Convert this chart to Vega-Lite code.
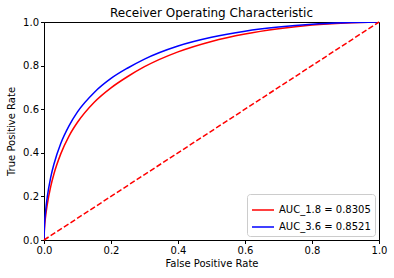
{
  "$schema": "https://vega.github.io/schema/vega-lite/v6.json",
  "width": 335,
  "height": 218,
  "autosize": {"type": "none"},
  "padding": {"left": 44, "top": 22, "right": 15, "bottom": 38},
  "background": "white",
  "config": {
    "font": "DejaVu Sans",
    "view": {"stroke": "black", "strokeWidth": 1},
    "axis": {
      "domainColor": "black",
      "tickColor": "black",
      "tickSize": 3.5,
      "labelColor": "black",
      "labelFontSize": 10,
      "titleFontSize": 10,
      "titleFontWeight": "normal",
      "titleColor": "black",
      "grid": false,
      "labelFlush": false,
      "labelFont": "DejaVu Sans",
      "titleFont": "DejaVu Sans"
    }
  },
  "title": {
    "text": "Receiver Operating Characteristic",
    "fontSize": 12,
    "fontWeight": "normal",
    "font": "DejaVu Sans",
    "color": "black",
    "offset": 5,
    "dy": 8
  },
  "layer": [
    {
      "data": {
        "values": [
          {"fpr": 0.0, "tpr": 0.0, "s": "AUC_1.8 = 0.8305"},
          {"fpr": 0.001, "tpr": 0.041, "s": "AUC_1.8 = 0.8305"},
          {"fpr": 0.005, "tpr": 0.11, "s": "AUC_1.8 = 0.8305"},
          {"fpr": 0.01, "tpr": 0.165, "s": "AUC_1.8 = 0.8305"},
          {"fpr": 0.02, "tpr": 0.245, "s": "AUC_1.8 = 0.8305"},
          {"fpr": 0.03, "tpr": 0.305, "s": "AUC_1.8 = 0.8305"},
          {"fpr": 0.05, "tpr": 0.395, "s": "AUC_1.8 = 0.8305"},
          {"fpr": 0.075, "tpr": 0.478, "s": "AUC_1.8 = 0.8305"},
          {"fpr": 0.1, "tpr": 0.54, "s": "AUC_1.8 = 0.8305"},
          {"fpr": 0.15, "tpr": 0.632, "s": "AUC_1.8 = 0.8305"},
          {"fpr": 0.2, "tpr": 0.698, "s": "AUC_1.8 = 0.8305"},
          {"fpr": 0.25, "tpr": 0.75, "s": "AUC_1.8 = 0.8305"},
          {"fpr": 0.3, "tpr": 0.795, "s": "AUC_1.8 = 0.8305"},
          {"fpr": 0.4, "tpr": 0.863, "s": "AUC_1.8 = 0.8305"},
          {"fpr": 0.5, "tpr": 0.911, "s": "AUC_1.8 = 0.8305"},
          {"fpr": 0.6, "tpr": 0.945, "s": "AUC_1.8 = 0.8305"},
          {"fpr": 0.7, "tpr": 0.969, "s": "AUC_1.8 = 0.8305"},
          {"fpr": 0.8, "tpr": 0.986, "s": "AUC_1.8 = 0.8305"},
          {"fpr": 0.9, "tpr": 0.9957, "s": "AUC_1.8 = 0.8305"},
          {"fpr": 1.0, "tpr": 1.0, "s": "AUC_1.8 = 0.8305"},
          {"fpr": 0.0, "tpr": 0.0, "s": "AUC_3.6 = 0.8521"},
          {"fpr": 0.001, "tpr": 0.054, "s": "AUC_3.6 = 0.8521"},
          {"fpr": 0.005, "tpr": 0.136, "s": "AUC_3.6 = 0.8521"},
          {"fpr": 0.01, "tpr": 0.2, "s": "AUC_3.6 = 0.8521"},
          {"fpr": 0.02, "tpr": 0.287, "s": "AUC_3.6 = 0.8521"},
          {"fpr": 0.03, "tpr": 0.35, "s": "AUC_3.6 = 0.8521"},
          {"fpr": 0.05, "tpr": 0.443, "s": "AUC_3.6 = 0.8521"},
          {"fpr": 0.075, "tpr": 0.525, "s": "AUC_3.6 = 0.8521"},
          {"fpr": 0.1, "tpr": 0.588, "s": "AUC_3.6 = 0.8521"},
          {"fpr": 0.15, "tpr": 0.677, "s": "AUC_3.6 = 0.8521"},
          {"fpr": 0.2, "tpr": 0.741, "s": "AUC_3.6 = 0.8521"},
          {"fpr": 0.25, "tpr": 0.789, "s": "AUC_3.6 = 0.8521"},
          {"fpr": 0.3, "tpr": 0.83, "s": "AUC_3.6 = 0.8521"},
          {"fpr": 0.4, "tpr": 0.89, "s": "AUC_3.6 = 0.8521"},
          {"fpr": 0.5, "tpr": 0.93, "s": "AUC_3.6 = 0.8521"},
          {"fpr": 0.6, "tpr": 0.958, "s": "AUC_3.6 = 0.8521"},
          {"fpr": 0.7, "tpr": 0.977, "s": "AUC_3.6 = 0.8521"},
          {"fpr": 0.8, "tpr": 0.99, "s": "AUC_3.6 = 0.8521"},
          {"fpr": 0.9, "tpr": 0.9971, "s": "AUC_3.6 = 0.8521"},
          {"fpr": 1.0, "tpr": 1.0, "s": "AUC_3.6 = 0.8521"}
        ]
      },
      "mark": {"type": "line", "strokeWidth": 1.5, "interpolate": "monotone", "clip": true},
      "encoding": {
        "x": {
          "field": "fpr", "type": "quantitative",
          "scale": {"domain": [0, 1], "nice": false, "zero": false},
          "axis": {"title": "False Positive Rate", "values": [0, 0.2, 0.4, 0.6, 0.8, 1.0], "format": ".1f", "labelPadding": 2, "titlePadding": 3}
        },
        "y": {
          "field": "tpr", "type": "quantitative",
          "scale": {"domain": [0, 1], "nice": false, "zero": false},
          "axis": {"title": "True Positive Rate", "values": [0, 0.2, 0.4, 0.6, 0.8, 1.0], "format": ".1f", "labelPadding": 2, "titlePadding": 6}
        },
        "color": {
          "field": "s", "type": "nominal",
          "scale": {"domain": ["AUC_1.8 = 0.8305", "AUC_3.6 = 0.8521"], "range": ["#ff0000", "#0000ff"]},
          "legend": {
            "title": null,
            "orient": "bottom-right",
            "offset": 4,
            "symbolType": "stroke",
            "symbolSize": 484,
            "symbolStrokeWidth": 1.5,
            "labelFontSize": 10,
            "labelFont": "DejaVu Sans",
            "labelColor": "black",
            "rowPadding": -6,
            "padding": 4,
            "fillColor": "white",
            "strokeColor": "#cccccc",
            "cornerRadius": 3
          }
        }
      }
    },
    {
      "data": {"values": [{"fpr": 0, "tpr": 0}, {"fpr": 1, "tpr": 1}]},
      "mark": {"type": "line", "color": "#ff0000", "strokeWidth": 1.5, "strokeDash": [5.5, 2.4]},
      "encoding": {
        "x": {"field": "fpr", "type": "quantitative"},
        "y": {"field": "tpr", "type": "quantitative"}
      }
    }
  ]
}
